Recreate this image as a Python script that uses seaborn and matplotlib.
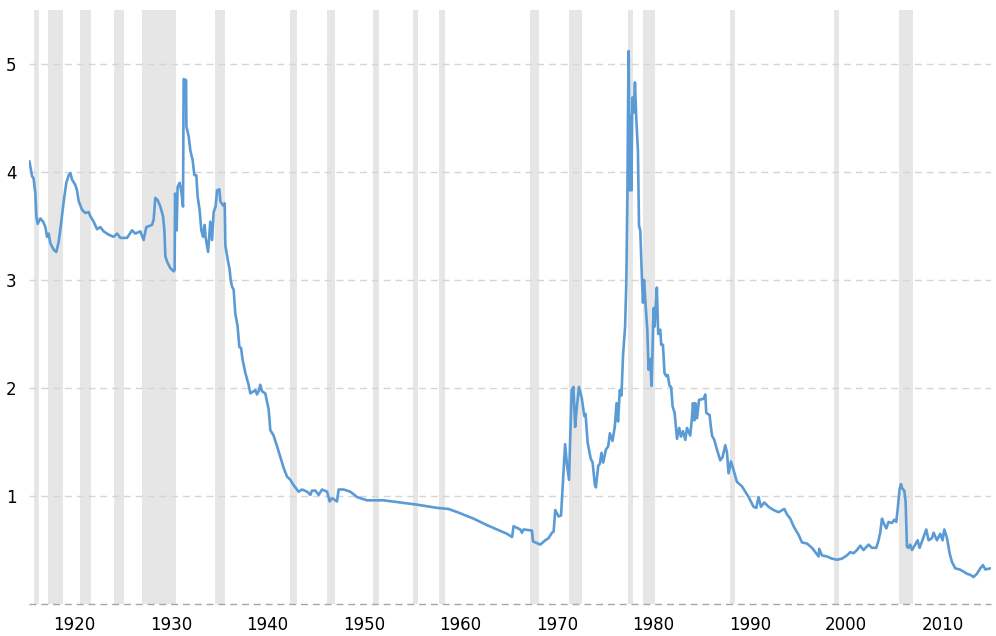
import matplotlib
matplotlib.use("Agg")
import matplotlib.pyplot as plt
import seaborn as sns
import pandas as pd

# ratio series (x in the chart's own year scale)
years = [
    1915.34, 1915.62, 1915.78, 1915.96, 1916.06, 1916.20, 1916.48, 1916.76, 1917.00, 1917.17,
    1917.34, 1917.51, 1917.86, 1918.13, 1918.37, 1918.62, 1918.79, 1918.96, 1919.17, 1919.41,
    1919.59, 1919.76, 1920.10, 1920.28, 1920.45, 1920.80, 1921.14, 1921.48, 1921.66, 1922.00,
    1922.35, 1922.69, 1923.04, 1923.55, 1924.07, 1924.43, 1924.77, 1925.46, 1925.98, 1926.32,
    1926.84, 1927.18, 1927.46, 1928.05, 1928.22, 1928.39, 1928.63, 1928.91, 1929.19, 1929.33,
    1929.43, 1929.61, 1929.95, 1930.29, 1930.39, 1930.44, 1930.54, 1930.60, 1930.70, 1930.91,
    1931.09, 1931.26, 1931.33, 1931.58, 1931.61, 1931.85, 1932.02, 1932.26, 1932.44, 1932.64,
    1932.78, 1932.98, 1933.16, 1933.34, 1933.50, 1933.61, 1933.86, 1934.09, 1934.27, 1934.44,
    1934.64, 1934.79, 1935.03, 1935.13, 1935.41, 1935.58, 1935.65, 1935.89, 1936.09, 1936.20,
    1936.34, 1936.51, 1936.68, 1936.92, 1937.10, 1937.28, 1937.44, 1937.72, 1938.06, 1938.24,
    1938.58, 1938.76, 1938.93, 1939.10, 1939.27, 1939.45, 1939.79, 1940.14, 1940.31, 1940.65,
    1941.01, 1941.35, 1941.69, 1942.04, 1942.38, 1942.73, 1943.24, 1943.60, 1944.12, 1944.46,
    1944.63, 1944.98, 1945.32, 1945.67, 1946.19, 1946.46, 1946.71, 1947.22, 1947.39, 1947.91,
    1948.60, 1949.30, 1950.33, 1951.02, 1952.05, 1953.78, 1955.51, 1956.20, 1957.59, 1958.79,
    1960.00, 1961.38, 1962.77, 1963.80, 1964.84, 1965.36, 1965.52, 1966.22, 1966.39, 1966.56,
    1967.43, 1967.53, 1968.29, 1968.81, 1969.15, 1969.50, 1969.67, 1969.84, 1970.19, 1970.44,
    1970.59, 1970.86, 1971.04, 1971.27, 1971.38, 1971.55, 1971.72, 1971.90, 1972.06, 1972.30,
    1972.58, 1972.85, 1972.98, 1973.19, 1973.50, 1973.71, 1973.95, 1974.05, 1974.30, 1974.47,
    1974.63, 1974.81, 1975.09, 1975.33, 1975.50, 1975.77, 1976.01, 1976.19, 1976.35, 1976.53,
    1976.70, 1976.87, 1977.08, 1977.21, 1977.32, 1977.39, 1977.45, 1977.55, 1977.66, 1977.73,
    1977.83, 1977.97, 1978.10, 1978.24, 1978.41, 1978.52, 1978.65, 1978.83, 1978.93, 1979.04,
    1979.20, 1979.38, 1979.51, 1979.69, 1979.82, 1980.03, 1980.14, 1980.24, 1980.37, 1980.51,
    1980.72, 1980.82, 1981.00, 1981.16, 1981.34, 1981.50, 1981.68, 1981.85, 1982.00, 1982.21,
    1982.46, 1982.69, 1982.87, 1983.08, 1983.32, 1983.49, 1983.83, 1984.01, 1984.11, 1984.25,
    1984.35, 1984.53, 1984.74, 1985.21, 1985.39, 1985.49, 1985.83, 1986.08, 1986.32, 1986.60,
    1986.94, 1987.18, 1987.46, 1987.64, 1987.80, 1988.05, 1988.32, 1988.67, 1989.19, 1989.53,
    1989.88, 1990.39, 1990.67, 1990.91, 1991.16, 1991.50, 1991.95, 1992.47, 1992.98, 1993.58,
    1993.86, 1994.20, 1994.54, 1995.06, 1995.41, 1995.93, 1996.45, 1996.79, 1997.13, 1997.20,
    1997.48, 1998.00, 1998.52, 1999.04, 1999.56, 2000.07, 2000.42, 2000.76, 2001.11, 2001.45,
    2001.79, 2002.31, 2002.66, 2003.11, 2003.35, 2003.52, 2003.70, 2003.87, 2004.15, 2004.38,
    2004.74, 2004.97, 2005.18, 2005.32, 2005.52, 2005.67, 2005.80, 2006.01, 2006.15, 2006.29,
    2006.46, 2006.63, 2006.81, 2007.15, 2007.39, 2007.60, 2007.85, 2008.29, 2008.53, 2008.88,
    2009.05, 2009.40, 2009.74, 2009.98, 2010.16, 2010.44, 2010.71, 2010.95, 2011.30, 2011.74,
    2012.16, 2012.51, 2012.85, 2013.19, 2013.54, 2013.89, 2014.17, 2014.41, 2014.93,
]
ratio = [
    4.10, 3.96, 3.94, 3.80, 3.59, 3.52, 3.57, 3.54, 3.49, 3.40,
    3.43, 3.34, 3.28, 3.26, 3.35, 3.52, 3.65, 3.77, 3.90, 3.97,
    3.99, 3.93, 3.88, 3.83, 3.73, 3.65, 3.62, 3.63, 3.59, 3.54,
    3.47, 3.49, 3.45, 3.42, 3.40, 3.43, 3.39, 3.39, 3.46, 3.43,
    3.45, 3.37, 3.49, 3.51, 3.56, 3.76, 3.74, 3.68, 3.59, 3.46,
    3.22, 3.17, 3.11, 3.08, 3.09, 3.80, 3.65, 3.46, 3.86, 3.90,
    3.82, 3.68, 4.86, 4.85, 4.42, 4.33, 4.20, 4.11, 3.97, 3.97,
    3.77, 3.65, 3.46, 3.40, 3.51, 3.39, 3.26, 3.54, 3.37, 3.63,
    3.68, 3.83, 3.84, 3.73, 3.69, 3.71, 3.32, 3.19, 3.10, 3.00,
    2.94, 2.91, 2.69, 2.57, 2.38, 2.37, 2.26, 2.14, 2.03, 1.95,
    1.97, 1.98, 1.94, 1.97, 2.03, 1.97, 1.95, 1.80, 1.61, 1.56,
    1.46, 1.36, 1.26, 1.18, 1.15, 1.10, 1.04, 1.06, 1.04, 1.01,
    1.05, 1.05, 1.01, 1.06, 1.04, 0.95, 0.98, 0.95, 1.06, 1.06,
    1.04, 0.99, 0.96, 0.96, 0.96, 0.94, 0.92, 0.91, 0.89, 0.88,
    0.84, 0.79, 0.73, 0.69, 0.65, 0.62, 0.72, 0.69, 0.66, 0.69,
    0.68, 0.58, 0.55, 0.59, 0.61, 0.66, 0.67, 0.87, 0.81, 0.82,
    1.05, 1.48, 1.30, 1.15, 1.51, 1.98, 2.01, 1.64, 1.81, 2.01,
    1.91, 1.74, 1.76, 1.50, 1.35, 1.31, 1.10, 1.08, 1.28, 1.30,
    1.40, 1.31, 1.43, 1.46, 1.58, 1.51, 1.64, 1.86, 1.69, 1.98,
    1.93, 2.31, 2.57, 3.00, 3.83, 4.65, 5.12, 3.83, 4.52, 3.83,
    4.69, 4.55, 4.83, 4.49, 4.19, 3.50, 3.46, 3.00, 2.79, 3.00,
    2.77, 2.54, 2.17, 2.27, 2.02, 2.74, 2.57, 2.74, 2.93, 2.50,
    2.54, 2.40, 2.40, 2.14, 2.11, 2.12, 2.02, 2.01, 1.83, 1.77,
    1.53, 1.63, 1.55, 1.60, 1.52, 1.63, 1.56, 1.73, 1.86, 1.70,
    1.86, 1.72, 1.89, 1.90, 1.94, 1.77, 1.75, 1.56, 1.52, 1.43,
    1.33, 1.36, 1.47, 1.40, 1.21, 1.32, 1.24, 1.13, 1.09, 1.04,
    0.99, 0.90, 0.89, 0.99, 0.90, 0.94, 0.90, 0.87, 0.85, 0.88,
    0.83, 0.79, 0.72, 0.64, 0.57, 0.56, 0.52, 0.48, 0.44, 0.51,
    0.45, 0.44, 0.42, 0.41, 0.42, 0.45, 0.48, 0.47, 0.50, 0.54,
    0.50, 0.55, 0.52, 0.52, 0.59, 0.66, 0.79, 0.75, 0.70, 0.76,
    0.75, 0.78, 0.76, 0.87, 1.06, 1.11, 1.07, 1.05, 0.95, 0.53,
    0.52, 0.55, 0.50, 0.55, 0.59, 0.52, 0.58, 0.69, 0.59, 0.61,
    0.66, 0.59, 0.65, 0.59, 0.69, 0.61, 0.47, 0.39, 0.33, 0.32,
    0.30, 0.28, 0.27, 0.25, 0.28, 0.33, 0.36, 0.32, 0.33,
]

# shaded recession bands (start / end)
rec_start = [1915.86, 1917.31, 1920.62, 1924.15, 1927.05, 1934.61, 1942.38, 1946.22, 1950.91,
             1955.06, 1957.75, 1967.25, 1971.29, 1977.41, 1978.93, 1987.91, 1998.68, 2005.42]
rec_end = [1916.37, 1918.86, 1921.76, 1925.18, 1930.57, 1935.65, 1943.11, 1947.05, 1951.61,
           1955.61, 1958.45, 1968.19, 1972.61, 1977.90, 1980.21, 1988.50, 1999.27, 2006.91]

x_ticks = [1920, 1930, 1940, 1950, 1960, 1970, 1980, 1990, 2000, 2010]
y_ticks = [1, 2, 3, 4, 5]

assert len(years) == len(ratio)
df = pd.DataFrame({"year": years, "ratio": ratio})

sns.set_style("white")
plt.rcParams["font.family"] = ["DejaVu Sans"]

fig = plt.figure(figsize=(9.96, 6.36), dpi=100)
ax = fig.add_axes([29 / 996, 32 / 636, 962 / 996, 594 / 636])

for s, e in zip(rec_start, rec_end):
    ax.axvspan(s, e, color="#e6e6e6", lw=0, zorder=0)

for y in y_ticks:
    ax.axhline(y, color="#d5d5d5", lw=1, ls=(0, (5, 3.5)), zorder=1)
ax.axhline(0, color="#a6a6a6", lw=1, ls=(0, (5, 3.5)), zorder=1, clip_on=False)

sns.lineplot(data=df, x="year", y="ratio", ax=ax, color="#5b9bd5", lw=1.9,
             sort=False, estimator=None, zorder=3)

ax.set_xlim(1915.3, 2015.0)
ax.set_ylim(0, 5.5)
ax.set_xticks(x_ticks)
ax.set_yticks(y_ticks)
ax.set_xlabel("")
ax.set_ylabel("")
ax.tick_params(axis="both", length=0, labelsize=12, colors="black")
ax.tick_params(axis="x", pad=9)
ax.tick_params(axis="y", pad=9)
sns.despine(ax=ax, left=True, bottom=True)

fig.savefig("out.png", dpi=100, facecolor="white")
